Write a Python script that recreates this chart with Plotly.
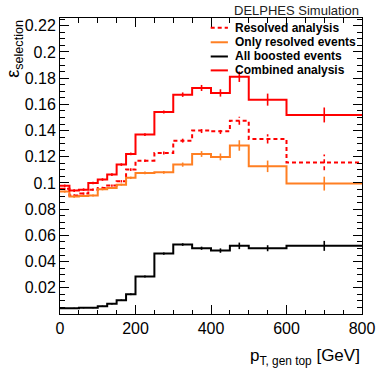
import plotly.graph_objects as go

# ---- data ----
bin_edges = [0, 25, 50, 75, 100, 125, 150, 175, 200, 250, 300, 350, 400, 450, 500, 600, 800]

resolved_analysis = [0.0955, 0.0904, 0.0919, 0.0949, 0.0962, 0.0980, 0.1013, 0.1102,
                     0.1170, 0.1229, 0.1323, 0.1401, 0.1394, 0.1475, 0.1336, 0.1157]
resolved_err = [0.0009, 0.0009, 0.0009, 0.0009, 0.0009, 0.0009, 0.0009, 0.0010,
                0.0010, 0.0012, 0.0015, 0.0020, 0.0020, 0.0030, 0.0035, 0.0060]

only_resolved = [0.0934, 0.0896, 0.0901, 0.0904, 0.0952, 0.0962, 0.0987, 0.1039,
                 0.1077, 0.1081, 0.1140, 0.1221, 0.1199, 0.1286, 0.1127, 0.0995]
only_resolved_err = [0.0008, 0.0008, 0.0008, 0.0008, 0.0008, 0.0008, 0.0008, 0.0009,
                     0.0010, 0.0011, 0.0016, 0.0022, 0.0026, 0.0040, 0.0044, 0.0053]

all_boosted = [0.0044, 0.0044, 0.0047, 0.0047, 0.0059, 0.0078, 0.0105, 0.0151,
               0.0286, 0.0461, 0.0530, 0.0502, 0.0484, 0.0520, 0.0502, 0.0520]
all_boosted_err = [0.0004, 0.0004, 0.0004, 0.0004, 0.0005, 0.0005, 0.0006, 0.0007,
                   0.0007, 0.0009, 0.0010, 0.0012, 0.0017, 0.0025, 0.0023, 0.0038]

combined = [0.0978, 0.0942, 0.0949, 0.1000, 0.1026, 0.1064, 0.1140, 0.1222,
            0.1369, 0.1542, 0.1674, 0.1725, 0.1687, 0.1811, 0.1636, 0.1519]
combined_err = [0.0010, 0.0010, 0.0010, 0.0010, 0.0010, 0.0010, 0.0010, 0.0010,
                0.0010, 0.0012, 0.0017, 0.0023, 0.0028, 0.0040, 0.0046, 0.0057]

legend_labels = ["Resolved analysis", "Only resolved events", "All boosted events", "Combined analysis"]
x_ticks = [0, 200, 400, 600, 800]
y_ticks = [0.02, 0.04, 0.06, 0.08, 0.1, 0.12, 0.14, 0.16, 0.18, 0.2, 0.22]

RED = "#ff0000"
ORANGE = "#ff7f22"
BLACK = "#000000"

series = [
    (resolved_analysis, resolved_err, RED, "4px,3px"),
    (only_resolved, only_resolved_err, ORANGE, "solid"),
    (all_boosted, all_boosted_err, BLACK, "solid"),
    (combined, combined_err, RED, "solid"),
]

fig = go.Figure()
centers = [(bin_edges[i] + bin_edges[i + 1]) / 2 for i in range(len(bin_edges) - 1)]

for vals, errs, col, dash in series:
    # step histogram
    fig.add_trace(go.Scatter(
        x=bin_edges, y=list(vals) + [vals[-1]],
        mode="lines", line=dict(shape="hv", color=col, width=2, dash=dash),
        showlegend=False, hoverinfo="skip"))
    # vertical error bars
    ex, ey = [], []
    for c, v, e in zip(centers, vals, errs):
        ex += [c, c, None]
        ey += [v - e, v + e, None]
    fig.add_trace(go.Scatter(
        x=ex, y=ey, mode="lines", line=dict(color=col, width=1.6, dash=dash),
        showlegend=False, hoverinfo="skip"))

# ---- manual legend ----
shapes = []
annotations = []
leg_y = [0.967, 0.918, 0.870, 0.823]
for (vals, errs, col, dash), lab, yy in zip(series, legend_labels, leg_y):
    shapes.append(dict(type="line", xref="paper", yref="paper",
                       x0=0.499, x1=0.556, y0=yy, y1=yy,
                       line=dict(color=col, width=2, dash=dash)))
    annotations.append(dict(text="<b>" + lab + "</b>", xref="paper", yref="paper",
                            x=0.573, y=yy, xanchor="left", yanchor="middle",
                            showarrow=False,
                            font=dict(family="Liberation Sans, Arial", size=12, color="black")))

annotations.append(dict(text="DELPHES Simulation", xref="paper", yref="paper",
                        x=0.997, y=1.027, xanchor="right", yanchor="middle", showarrow=False,
                        font=dict(family="Liberation Sans, Arial", size=13, color="#222")))
annotations.append(dict(text="ε<sub>selection</sub>", xref="paper", yref="paper",
                        x=-0.153, y=1.0, xanchor="center", yanchor="top", textangle=-90,
                        showarrow=False,
                        font=dict(family="Liberation Sans, Arial", size=18, color="black")))
annotations.append(dict(text="p<sub>T, gen top</sub> [GeV]", xref="paper", yref="paper",
                        x=1.0, y=-0.1, xanchor="right", yanchor="top", showarrow=False,
                        font=dict(family="Liberation Sans, Arial", size=17, color="black")))

axis_font = dict(family="Liberation Sans, Arial", size=16, color="black")

fig.update_layout(
    width=387, height=372,
    margin=dict(l=60, r=17, t=18, b=58, pad=0),
    paper_bgcolor="white", plot_bgcolor="white",
    showlegend=False,
    shapes=shapes, annotations=annotations,
    xaxis=dict(range=[0, 800], tickmode="array", tickvals=x_ticks,
               ticks="inside", ticklen=9, tickwidth=1, tickcolor="black",
               minor=dict(dtick=50, tick0=0, ticks="inside", ticklen=4.5, tickcolor="black"),
               showline=True, linecolor="black", linewidth=1, mirror="ticks",
               showgrid=False, zeroline=False, tickfont=axis_font),
    yaxis=dict(range=[0, 0.2259], tickmode="array", tickvals=y_ticks,
               ticks="inside", ticklen=9, tickwidth=1, tickcolor="black",
               minor=dict(dtick=0.005, tick0=0, ticks="inside", ticklen=5, tickcolor="black"),
               showline=True, linecolor="black", linewidth=1, mirror="ticks",
               showgrid=False, zeroline=False, tickfont=axis_font),
)

fig.write_html("out.html")
